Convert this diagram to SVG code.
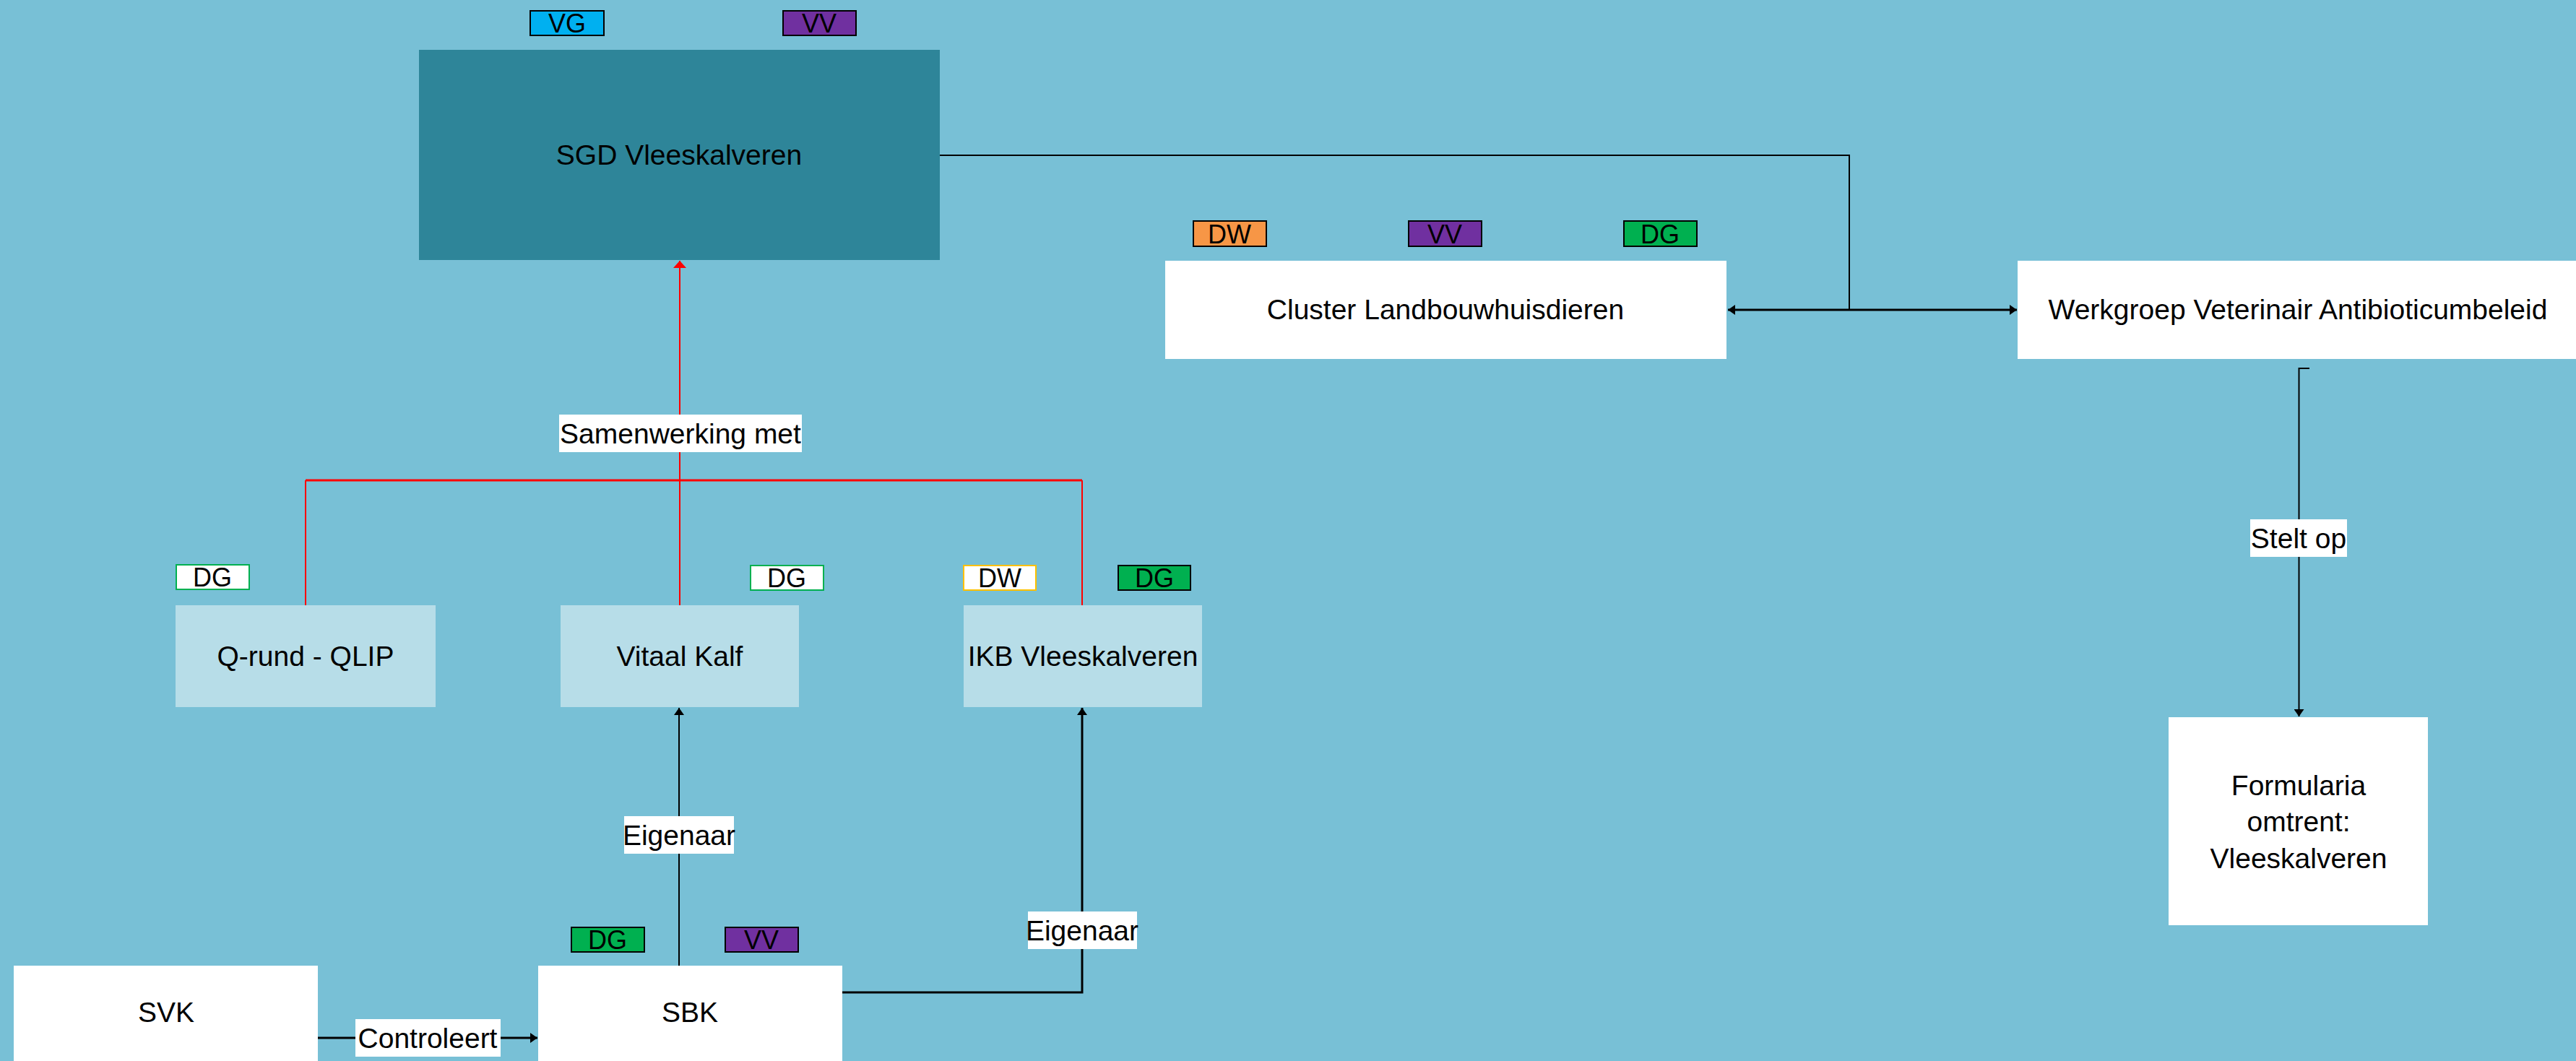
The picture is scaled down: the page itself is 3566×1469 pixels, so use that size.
<svg xmlns="http://www.w3.org/2000/svg" width="3566" height="1469" viewBox="0 0 3566 1469">
<style>
text{font-family:"Liberation Sans",Arial,sans-serif;fill:#000;text-anchor:middle}
.t{font-size:39px}
.tag{font-size:36px}
.white{fill:#fff}
.light{fill:#B7DDE8}
.lbl{fill:#fff}
.ln{fill:none;stroke:#000;stroke-width:2}
.lnb{fill:none;stroke:#000;stroke-width:3}
.red{fill:none;stroke:#FF0000;stroke-width:2}
.redb{fill:none;stroke:#FF0000;stroke-width:3}
.tb{stroke:#000;stroke-width:2}
</style>
<defs>
<marker id="ar" markerUnits="userSpaceOnUse" markerWidth="10" markerHeight="18" refX="10" refY="9" orient="auto" viewBox="0 0 10 18">
<path d="M0,0 L10,9 L0,18 Z" fill="#FF0000"/>
</marker>
<marker id="ak" markerUnits="userSpaceOnUse" markerWidth="10" markerHeight="14" refX="10" refY="7" orient="auto-start-reverse" viewBox="0 0 10 14">
<path d="M0,0 L10,7 L0,14 Z" fill="#000"/>
</marker>
</defs>
<rect x="0" y="0" width="3566" height="1469" fill="#78C0D6"/>

<g id="connectors">
<path class="ln" d="M1301,215 H2560 V429"/>
<path class="lnb" d="M2392,429 H2792" marker-start="url(#ak)" marker-end="url(#ak)"/>
<path class="ln" d="M3197,510 H3182.5 V992" marker-end="url(#ak)"/>
<path class="redb" d="M423,665 H1498"/>
<path class="red" d="M423,665 V838"/>
<path class="red" d="M1498,665 V838"/>
<path class="red" d="M941,838 V361" marker-end="url(#ar)"/>
<path class="ln" d="M940,1337 V980" marker-end="url(#ak)"/>
<path class="lnb" d="M1166,1374 H1498 V980" marker-end="url(#ak)"/>
<path class="lnb" d="M440,1437 H744" marker-end="url(#ak)"/>
<g id="label-samenwerking"><rect class="lbl" x="774" y="574" width="336" height="52"/><text class="t" x="942" y="614">Samenwerking met</text></g>
<g id="label-stelt"><rect class="lbl" x="3115" y="719" width="134" height="52"/><text class="t" x="3182" y="759">Stelt op</text></g>
<g id="label-eigenaar1"><rect class="lbl" x="864" y="1130" width="152" height="52"/><text class="t" x="940" y="1170">Eigenaar</text></g>
<g id="label-eigenaar2"><rect class="lbl" x="1423" y="1262" width="151" height="52"/><text class="t" x="1498" y="1302">Eigenaar</text></g>
<g id="label-controleert"><rect class="lbl" x="492" y="1411" width="201" height="52"/><text class="t" x="592" y="1451">Controleert</text></g>
</g>

<g id="sgd"><rect x="580" y="69" width="721" height="291" fill="#2E8599"/><text class="t" x="940" y="228">SGD Vleeskalveren</text></g>
<g id="tag-sgd-vg"><rect class="tb" x="734" y="15" width="102" height="34" fill="#00B0F0"/><text class="tag" x="785" y="45">VG</text></g>
<g id="tag-sgd-vv"><rect class="tb" x="1084" y="15" width="101" height="34" fill="#7030A0"/><text class="tag" x="1134" y="45">VV</text></g>

<g id="cluster"><rect class="white" x="1613" y="361" width="777" height="136"/><text class="t" x="2001" y="442">Cluster Landbouwhuisdieren</text></g>
<g id="tag-cl-dw"><rect class="tb" x="1652" y="306" width="101" height="35" fill="#F79646"/><text class="tag" x="1702" y="337">DW</text></g>
<g id="tag-cl-vv"><rect class="tb" x="1950" y="306" width="101" height="35" fill="#7030A0"/><text class="tag" x="2000" y="337">VV</text></g>
<g id="tag-cl-dg"><rect class="tb" x="2248" y="306" width="101" height="35" fill="#00B050"/><text class="tag" x="2298" y="337">DG</text></g>

<g id="werkgroep"><rect class="white" x="2793" y="361" width="773" height="136"/><text class="t" x="3181" y="442">Werkgroep Veterinair Antibioticumbeleid</text></g>

<g id="formularia"><rect class="white" x="3002" y="993" width="359" height="288"/>
<text class="t" x="3182" y="1101">Formularia</text>
<text class="t" x="3182" y="1151">omtrent:</text>
<text class="t" x="3182" y="1202">Vleeskalveren</text></g>

<g id="qrund"><rect class="light" x="243" y="838" width="360" height="141"/><text class="t" x="423" y="922">Q-rund - QLIP</text></g>
<g id="tag-q-dg"><rect x="244" y="782" width="101" height="34" fill="#fff" stroke="#00B050" stroke-width="2"/><text class="tag" x="294" y="812">DG</text></g>

<g id="vitaal"><rect class="light" x="776" y="838" width="330" height="141"/><text class="t" x="941" y="922">Vitaal Kalf</text></g>
<g id="tag-v-dg"><rect x="1039" y="783" width="101" height="34" fill="#fff" stroke="#00B050" stroke-width="2"/><text class="tag" x="1089" y="813">DG</text></g>

<g id="ikb"><rect class="light" x="1334" y="838" width="330" height="141"/><text class="t" x="1499" y="922">IKB Vleeskalveren</text></g>
<g id="tag-i-dw"><rect x="1334" y="783" width="100" height="34" fill="#fff" stroke="#FFC000" stroke-width="2"/><text class="tag" x="1384" y="813">DW</text></g>
<g id="tag-i-dg"><rect class="tb" x="1548" y="783" width="100" height="34" fill="#00B050"/><text class="tag" x="1598" y="813">DG</text></g>

<g id="svk"><rect class="white" x="19" y="1337" width="421" height="132"/><text class="t" x="230" y="1415">SVK</text></g>
<g id="sbk"><rect class="white" x="745" y="1337" width="421" height="132"/><text class="t" x="955" y="1415">SBK</text></g>
<g id="tag-sbk-dg"><rect class="tb" x="791" y="1284" width="101" height="34" fill="#00B050"/><text class="tag" x="841" y="1314">DG</text></g>
<g id="tag-sbk-vv"><rect class="tb" x="1004" y="1284" width="101" height="34" fill="#7030A0"/><text class="tag" x="1054" y="1314">VV</text></g>
</svg>
